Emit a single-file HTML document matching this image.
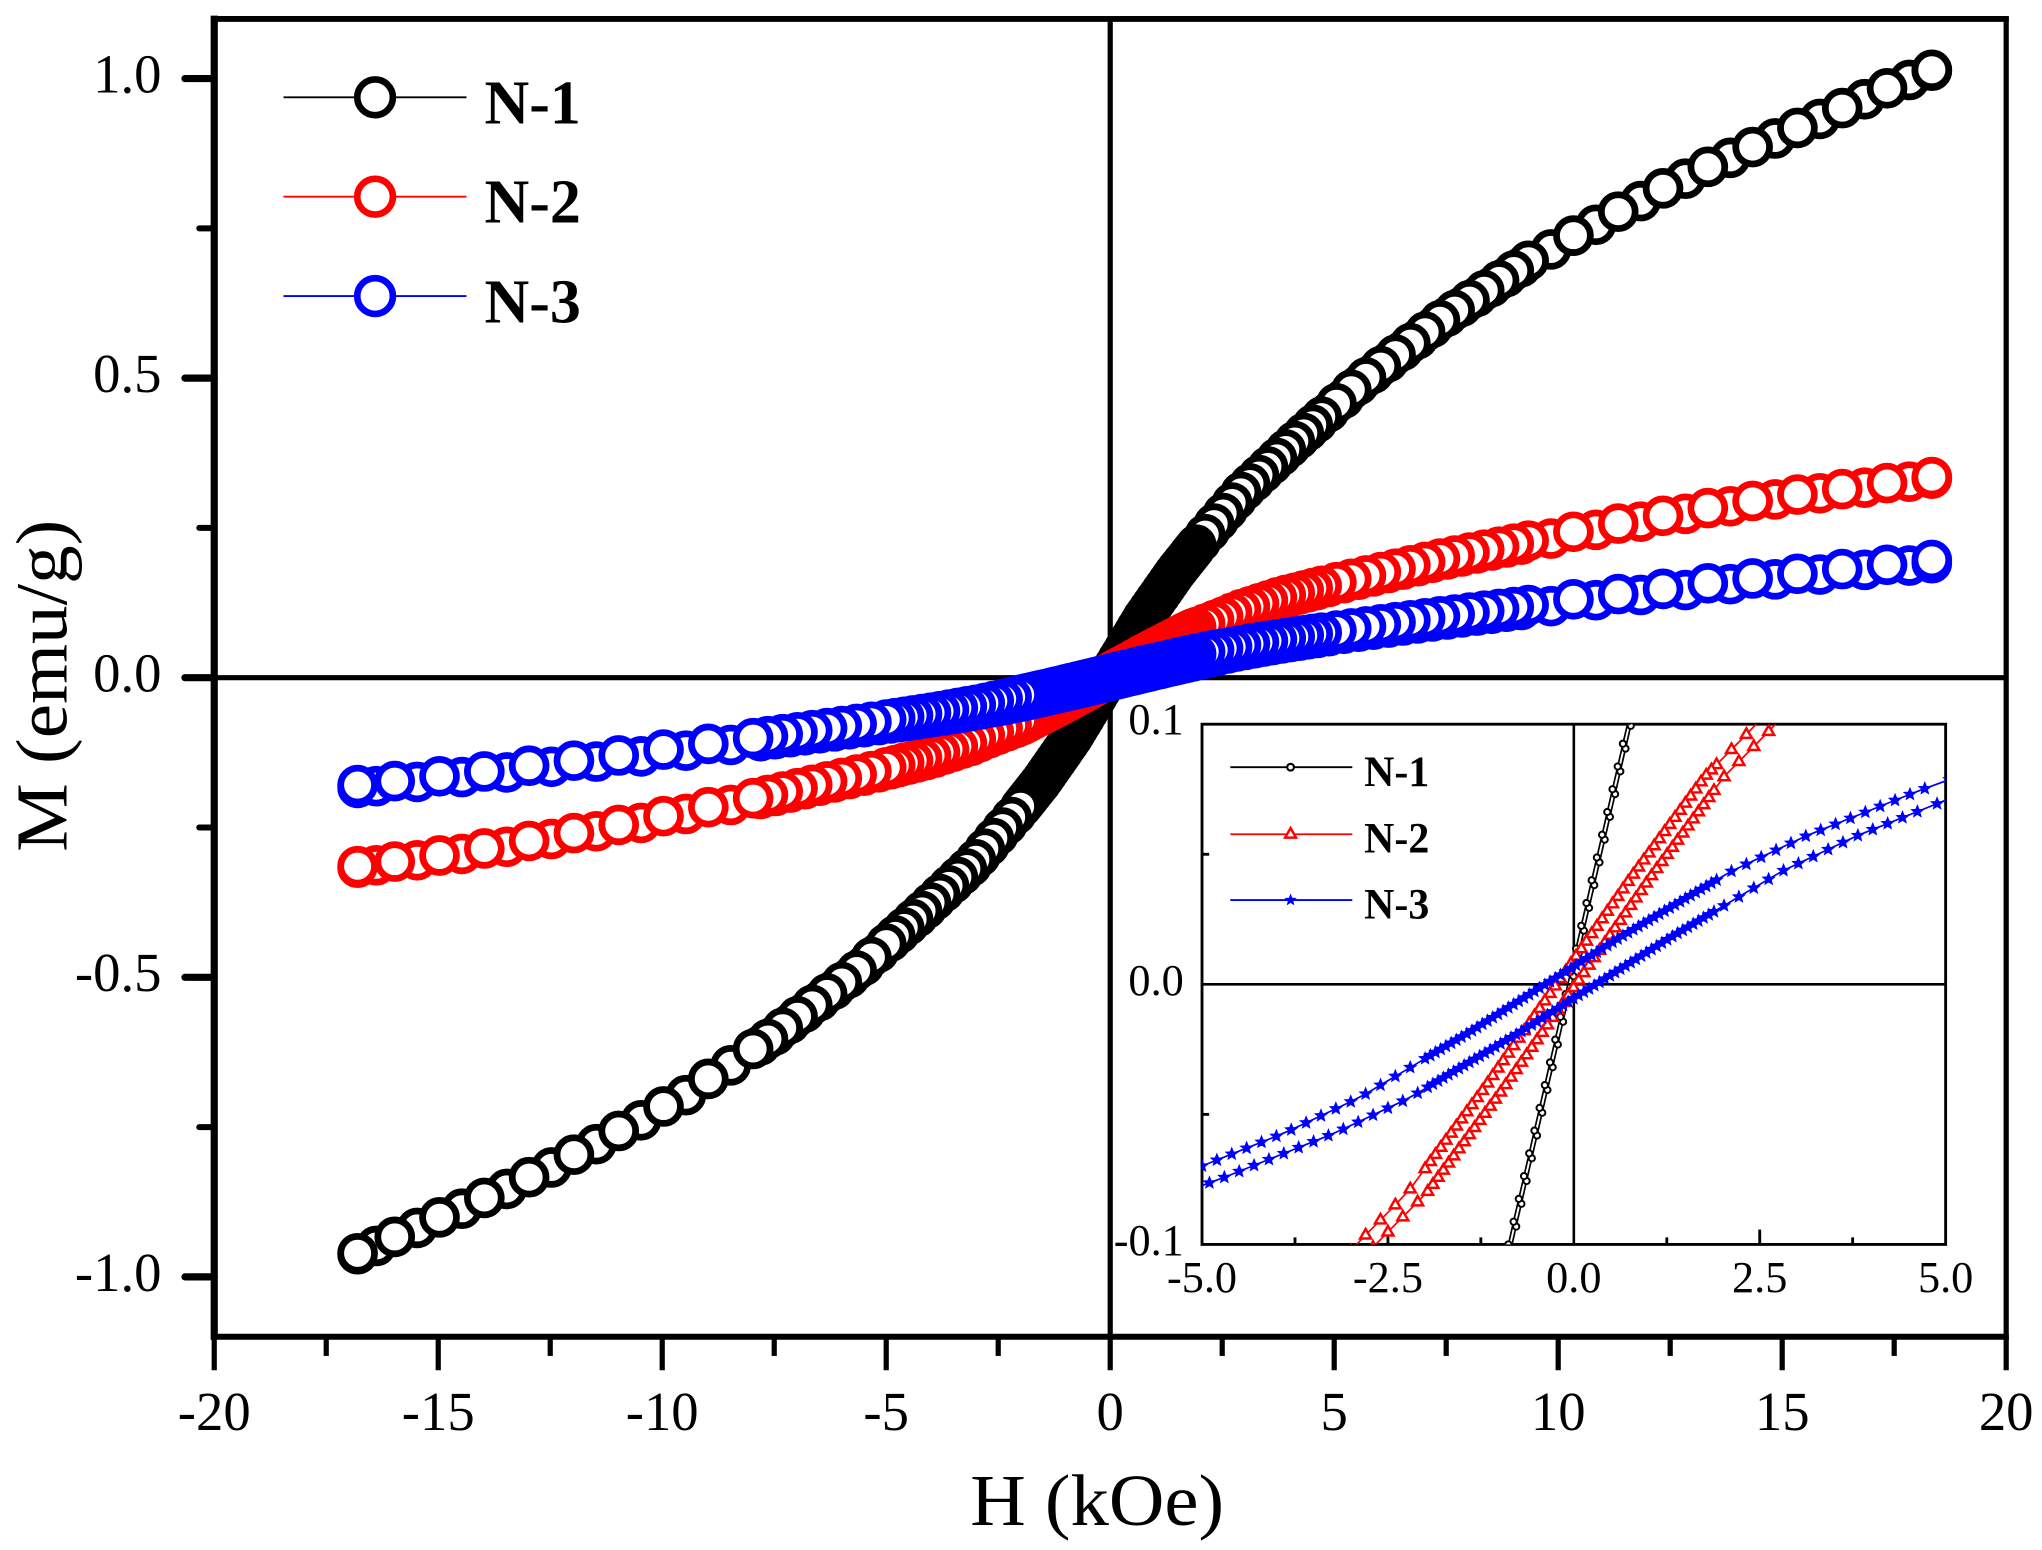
<!DOCTYPE html>
<html>
<head>
<meta charset="utf-8">
<style>
html,body{margin:0;padding:0;background:#fff;overflow:hidden;}
svg{display:block;}
text{font-family:"Liberation Serif","DejaVu Serif",serif;fill:#000;}
</style>
</head>
<body>
<svg id="c" xmlns="http://www.w3.org/2000/svg" width="2042" height="1550" viewBox="0 0 1568 1190" preserveAspectRatio="none">
<defs>
<clipPath id="ic"><rect x="923" y="556" width="571" height="399.4"/></clipPath>
</defs>
<rect x="0" y="0" width="1568" height="1190" fill="#fff"/>

<!-- main frame -->
<line x1="164.5" y1="12" x2="164.5" y2="1028.6" stroke="#000" stroke-width="5.5"/>
<line x1="162" y1="14.5" x2="1542.5" y2="14.5" stroke="#000" stroke-width="4.5"/>
<line x1="1540.5" y1="12.5" x2="1540.5" y2="1028.6" stroke="#000" stroke-width="4"/>
<line x1="162" y1="1026.3" x2="1542.5" y2="1026.3" stroke="#000" stroke-width="4.6"/>
<!-- zero lines -->
<line x1="852.5" y1="14.5" x2="852.5" y2="1026.3" stroke="#000" stroke-width="4"/>
<line x1="164.5" y1="520.3" x2="1540.5" y2="520.3" stroke="#000" stroke-width="3.9"/>

<!-- y ticks -->
<g stroke="#000" stroke-linecap="round">
<line x1="142" y1="60.3" x2="164.5" y2="60.3" stroke-width="5.5"/>
<line x1="142" y1="290.3" x2="164.5" y2="290.3" stroke-width="5.5"/>
<line x1="142" y1="520.3" x2="164.5" y2="520.3" stroke-width="5.5"/>
<line x1="142" y1="750.3" x2="164.5" y2="750.3" stroke-width="5.5"/>
<line x1="142" y1="980.3" x2="164.5" y2="980.3" stroke-width="5.5"/>
<line x1="153" y1="175.3" x2="164.5" y2="175.3" stroke-width="4.6"/>
<line x1="153" y1="405.3" x2="164.5" y2="405.3" stroke-width="4.6"/>
<line x1="153" y1="635.3" x2="164.5" y2="635.3" stroke-width="4.6"/>
<line x1="153" y1="865.3" x2="164.5" y2="865.3" stroke-width="4.6"/>
</g>
<g id="xt" stroke="#000" stroke-width="4"></g>

<!-- y labels -->
<g font-size="42" text-anchor="end">
<text x="124" y="71">1.0</text>
<text x="124" y="301">0.5</text>
<text x="124" y="531">0.0</text>
<text x="124" y="761">-0.5</text>
<text x="124" y="991">-1.0</text>
</g>
<!-- x labels -->
<g font-size="42" text-anchor="middle">
<text x="164.5" y="1098">-20</text>
<text x="336.5" y="1098">-15</text>
<text x="508.5" y="1098">-10</text>
<text x="680.5" y="1098">-5</text>
<text x="852.5" y="1098">0</text>
<text x="1024.5" y="1098">5</text>
<text x="1196.5" y="1098">10</text>
<text x="1368.5" y="1098">15</text>
<text x="1540.5" y="1098">20</text>
</g>
<!-- axis titles -->
<text x="842.5" y="1171" font-size="56" text-anchor="middle" textLength="195" lengthAdjust="spacingAndGlyphs">H (kOe)</text>
<text transform="translate(51,526.5) rotate(-90)" x="0" y="0" font-size="56" text-anchor="middle" textLength="255" lengthAdjust="spacingAndGlyphs">M (emu/g)</text>

<!-- inset frame & ticks -->
<g stroke="#000">
<rect x="923" y="556" width="571" height="399.4" fill="none" stroke-width="2.2"/>
<line x1="1208.5" y1="556" x2="1208.5" y2="955.4" stroke-width="2"/>
<line x1="923" y1="755.7" x2="1494" y2="755.7" stroke-width="2"/>
<g stroke-width="2.2">
<line x1="1065.75" y1="955.4" x2="1065.75" y2="944"/>
<line x1="1351.25" y1="955.4" x2="1351.25" y2="944"/>
<line x1="994.4" y1="955.4" x2="994.4" y2="950"/>
<line x1="1137.1" y1="955.4" x2="1137.1" y2="950"/>
<line x1="1279.9" y1="955.4" x2="1279.9" y2="950"/>
<line x1="1422.6" y1="955.4" x2="1422.6" y2="950"/>
<line x1="923" y1="655.85" x2="928.5" y2="655.85"/>
<line x1="923" y1="855.55" x2="928.5" y2="855.55"/>
</g>
</g>
<g font-size="34" text-anchor="middle">
<text x="923" y="992">-5.0</text>
<text x="1065.75" y="992">-2.5</text>
<text x="1208.5" y="992">0.0</text>
<text x="1351.25" y="992">2.5</text>
<text x="1494" y="992">5.0</text>
</g>
<g font-size="34" text-anchor="end">
<text x="909" y="563.6">0.1</text>
<text x="909" y="764">0.0</text>
<text x="909" y="963.5">-0.1</text>
</g>

<g id="main"></g>
<g id="ins" clip-path="url(#ic)"></g>

<!-- main legend -->
<g>
<line x1="217.7" y1="74.7" x2="358.2" y2="74.7" stroke="#000" stroke-width="1.5"/>
<circle cx="288" cy="74.7" r="13.7" fill="#fff" stroke="#000" stroke-width="5.1"/>
<line x1="217.7" y1="151" x2="358.2" y2="151" stroke="#f00" stroke-width="1.5"/>
<circle cx="288" cy="151" r="13.7" fill="#fff" stroke="#f00" stroke-width="5.1"/>
<line x1="217.7" y1="227.3" x2="358.2" y2="227.3" stroke="#00f" stroke-width="1.5"/>
<circle cx="288" cy="227.3" r="13.7" fill="#fff" stroke="#00f" stroke-width="5.1"/>
</g>
<g font-size="48" font-weight="bold">
<text x="372" y="95" textLength="74" lengthAdjust="spacingAndGlyphs">N-1</text>
<text x="372" y="171" textLength="74" lengthAdjust="spacingAndGlyphs">N-2</text>
<text x="372" y="247.5" textLength="74" lengthAdjust="spacingAndGlyphs">N-3</text>
</g>

<!-- inset legend -->
<g>
<line x1="944.7" y1="589" x2="1038.4" y2="589" stroke="#000" stroke-width="1.4"/>
<circle cx="991" cy="589" r="2.6" fill="#fff" stroke="#000" stroke-width="1.6"/>
<line x1="944.7" y1="640.5" x2="1038.4" y2="640.5" stroke="#f00" stroke-width="1.4"/>
<polygon points="991,635.8 986.8,643.1 995.2,643.1" fill="#fff" stroke="#f00" stroke-width="1.9"/>
<line x1="944.7" y1="691" x2="1038.4" y2="691" stroke="#00f" stroke-width="1.4"/>
<polygon id="lstar" fill="#00f"/>
</g>
<g font-size="33" font-weight="bold">
<text x="1047.5" y="603.4" textLength="50" lengthAdjust="spacingAndGlyphs">N-1</text>
<text x="1047.5" y="654.5" textLength="50" lengthAdjust="spacingAndGlyphs">N-2</text>
<text x="1047.5" y="705" textLength="50" lengthAdjust="spacingAndGlyphs">N-3</text>
</g>
</svg>

<script>
(function(){
var xt=document.getElementById('xt'), s='';
for(var h=-20;h<=20.01;h+=2.5){
  var x=852.5+h*34.4;
  var major=(Math.abs(h/5-Math.round(h/5))<1e-6);
  s+='<line x1="'+x.toFixed(2)+'" y1="1026.3" x2="'+x.toFixed(2)+'" y2="'+(major?1052:1041)+'"/>';
}
xt.innerHTML=s;

function interp(tab,x){
  var sg=x<0?-1:1; x=Math.abs(x);
  for(var i=1;i<tab.length;i++){
    if(x<=tab[i][0]){var x0=tab[i-1][0],y0=tab[i-1][1],x1=tab[i][0],y1=tab[i][1];
      return sg*(y0+(y1-y0)*(x-x0)/(x1-x0));}
  }
  var n=tab.length,a=tab[n-2],b=tab[n-1];
  return sg*(b[1]+(b[1]-a[1])*(x-b[0])/(b[0]-a[0]));
}
var g1=[[0,0],[0.8,0.1],[1.5,0.175],[2,0.222],[3,0.31],[4.2,0.395],[5.6,0.49],[7.5,0.6],[9.4,0.695],[10.4,0.737],[11.4,0.777],[12.4,0.816],[13.4,0.852],[14.4,0.885],[15.4,0.917],[16.4,0.95],[17.4,0.983],[18.4,1.014]];
var g2=[[0,0],[1,0.041],[2,0.08],[2.69,0.1],[3.1,0.113],[4,0.135],[5.2,0.158],[7.6,0.199],[9.4,0.226],[10.4,0.241],[11.4,0.255],[12.4,0.268],[13.4,0.281],[14.4,0.293],[15.4,0.304],[16.4,0.313],[17.4,0.323],[18.4,0.333]];
var g3=[[0,0],[1,0.018],[2,0.035],[2.5,0.0435],[3.5,0.057],[5,0.0742],[6.5,0.09],[7.7,0.102],[9.4,0.118],[10.4,0.128],[11.4,0.137],[12.4,0.145],[13.4,0.155],[14.4,0.163],[15.4,0.171],[16.4,0.179],[17.4,0.186],[18.4,0.194]];

var HMAX=18.34, HMIN=-16.8;
function stepA(h){
  var a=Math.abs(h), hi=h>0?9.3:7.3;
  if(a>hi+0.5) return 1.0;
  if(a>5) return 0.33;
  if(a>2) return 0.2;
  return 0.07;
}
var A=[], h=HMAX;
while(h>HMIN+0.3){A.push(h); h-=stepA(h);}
A.push(HMIN);
var B=[HMIN];
for(var i=A.length-1;i>0;i--){B.push((A[i]+A[i-1])/2);}
B.push(HMAX);

function X(h){return 852.5+h*34.4;}
function Y(m){return 520.3-m*460;}
function XI(h){return 1208.5+h*57.1;}
function YI(m){return 755.7-m*1997;}

var series=[
 {tab:g1,col:'#000',sU:0.08,sL:0.03,mk:'c'},
 {tab:g2,col:'#f00',sU:0.235,sL:-0.025,mk:'t'},
 {tab:g3,col:'#00f',sU:0.38,sL:-0.3,mk:'s'}
];
function f(v){return v.toFixed(1);}
function star(x,y,R,r){
  var p=[];
  for(var k=0;k<10;k++){var ang=-Math.PI/2+k*Math.PI/5, rad=(k%2)?r:R;
    p.push((x+rad*Math.cos(ang)).toFixed(2)+','+(y+rad*Math.sin(ang)).toFixed(2));}
  return p.join(' ');
}
document.getElementById('lstar').setAttribute('points',star(991,691,5,2.2));

var ms='', is='';
series.forEach(function(S){
  var pa=A.map(function(h){return [h,interp(S.tab,h+S.sU)];});
  var pb=B.map(function(h){return [h,interp(S.tab,h+S.sL)];});
  var all=pa.concat(pb);
  ms+='<polyline fill="none" stroke="'+S.col+'" stroke-width="1.5" points="'+all.map(function(p){return f(X(p[0]))+','+f(Y(p[1]));}).join(' ')+'"/>';
  [pb,pa].forEach(function(br){
    br.forEach(function(p){
      ms+='<circle cx="'+f(X(p[0]))+'" cy="'+f(Y(p[1]))+'" r="13" fill="#fff" stroke="'+S.col+'" stroke-width="5.2"/>';
    });
  });
  [pa,pb].forEach(function(br){
    var sel=br.filter(function(p){return Math.abs(p[0])<=5.6 && Math.abs(p[1])<=0.115;});
    is+='<polyline fill="none" stroke="'+S.col+'" stroke-width="1.3" points="'+sel.map(function(p){return f(XI(p[0]))+','+f(YI(p[1]));}).join(' ')+'"/>';
  });
  [pb,pa].forEach(function(br){
    br.forEach(function(p){
      if(Math.abs(p[0])>5.4||Math.abs(p[1])>0.11) return;
      var x=XI(p[0]), y=YI(p[1]);
      if(S.mk==='c'){
        is+='<circle cx="'+x.toFixed(2)+'" cy="'+y.toFixed(2)+'" r="2.4" fill="#fff" stroke="#000" stroke-width="1.5"/>';
      } else if(S.mk==='t'){
        is+='<polygon points="'+x.toFixed(2)+','+(y-4.6).toFixed(2)+' '+(x-4.2).toFixed(2)+','+(y+2.7).toFixed(2)+' '+(x+4.2).toFixed(2)+','+(y+2.7).toFixed(2)+'" fill="#fff" stroke="#f00" stroke-width="1.9"/>';
      } else {
        is+='<polygon points="'+star(x,y,5,2.2)+'" fill="#00f" stroke="#00f" stroke-width="0.6"/>';
      }
    });
  });
});
document.getElementById('main').innerHTML=ms;
document.getElementById('ins').innerHTML=is;
})();
</script>
</body>
</html>
